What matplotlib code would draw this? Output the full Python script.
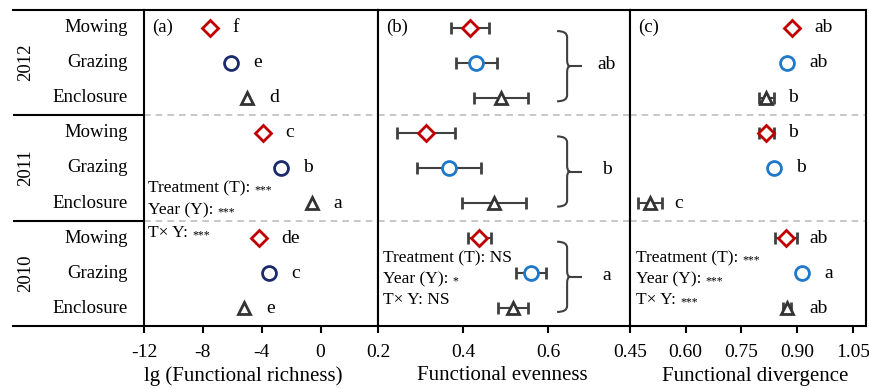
import matplotlib.pyplot as plt
from matplotlib.path import Path
from matplotlib.patches import PathPatch
import matplotlib.transforms as mtransforms

plt.rcParams["font.family"] = ["Liberation Serif", "DejaVu Serif"]

YEARS = ["2012", "2011", "2010"]
TREATMENTS = ["Mowing", "Grazing", "Enclosure"]

# rows top to bottom: 2012 (M, G, E), 2011 (M, G, E), 2010 (M, G, E)
fric_mean = [-7.5, -6.1, -5.0, -3.9, -2.7, -0.6, -4.2, -3.5, -5.2]
fric_err = [0, 0, 0, 0, 0, 0, 0, 0, 0]
fric_letters = ["f", "e", "d", "c", "b", "a", "de", "c", "e"]

feve_mean = [0.416, 0.431, 0.489, 0.313, 0.367, 0.473, 0.438, 0.560, 0.518]
feve_err = [0.045, 0.048, 0.063, 0.068, 0.076, 0.075, 0.027, 0.035, 0.035]
feve_year_letters = ["ab", "b", "a"]

fdiv_mean = [0.887, 0.873, 0.817, 0.817, 0.838, 0.504, 0.870, 0.913, 0.873]
fdiv_err = [0, 0, 0.02, 0.02, 0, 0.033, 0.03, 0, 0.01]
fdiv_letters = ["ab", "ab", "b", "b", "b", "c", "ab", "a", "ab"]

stats_a = [("Treatment (T): ", "***"), ("Year (Y): ", "***"), ("T\u00d7 Y: ", "***")]
stats_b = [("Treatment (T): NS", ""), ("Year (Y): ", "*"), ("T\u00d7 Y: NS", "")]
stats_c = [("Treatment (T): ", "***"), ("Year (Y): ", "***"), ("T\u00d7 Y: ", "***")]

RED = "#C00000"
NAVY = "#1B2A6B"
BLUE = "#1F78C8"
GRAY = "#333333"
ERR = "#404040"

W, H = 870, 389
fig = plt.figure(figsize=(W / 100, H / 100), dpi=100)


def px_axes(x0, y0, x1, y1):
    return fig.add_axes([x0 / W, 1 - y1 / H, (x1 - x0) / W, (y1 - y0) / H])


def draw_brace(ax, xb, ytop, ybot, xpx, ypx):
    ymid = (ytop + ybot) / 2
    hook = 10 * xpx
    r = 6 * ypx
    verts = [(xb - hook, ytop), (xb, ytop), (xb, ytop + r),
             (xb, ymid - r), (xb, ymid), (xb + 3 * xpx, ymid),
             (xb, ymid), (xb, ymid + r),
             (xb, ybot - r), (xb, ybot), (xb - hook, ybot)]
    codes = [Path.MOVETO, Path.CURVE3, Path.CURVE3, Path.LINETO,
             Path.CURVE3, Path.CURVE3, Path.CURVE3, Path.CURVE3,
             Path.LINETO, Path.CURVE3, Path.CURVE3]
    ax.add_patch(PathPatch(Path(verts, codes), fill=False, edgecolor=ERR, lw=1.5))
    ax.plot([xb + 3 * xpx, xb + 14 * xpx], [ymid, ymid], color=ERR, lw=1.5)
    return ymid


def panel(ax, xlim, ticks, ticklabels, means, errs, circle_color, label):
    ax.set_xlim(*xlim)
    ax.set_ylim(8.5, -0.5)
    ax.set_xticks(ticks)
    ax.set_xticklabels(ticklabels)
    ax.set_yticks([])
    ax.tick_params(axis="x", direction="out", length=5, width=1.5, labelsize=14, pad=8)
    for s in ax.spines.values():
        s.set_linewidth(1.5)
    for y in (2.5, 5.5):
        ax.axhline(y, color="#BFBFBF", lw=1.2, ls=(0, (4, 3)), zorder=0)
    styles = [("D", RED, 8), ("o", circle_color, 10), ("^", GRAY, 9)]
    for i, (m, e) in enumerate(zip(means, errs)):
        mk, col, ms = styles[i % 3]
        ax.errorbar(m, i, xerr=e, fmt=mk, ms=ms, mfc="white", mec=col, mew=2,
                    ecolor=ERR, elinewidth=1.5, capsize=4, capthick=1.5, zorder=3)
    ax.text(8 / 234, 0, label, transform=mtransforms.blended_transform_factory(ax.transAxes, ax.transData),
            fontsize=13.5, va="center", ha="left")


def stats(ax, rows, ys, xpad_px, width_px):
    trans = mtransforms.blended_transform_factory(ax.transAxes, ax.transData)
    for (main, stars), y in zip(rows, ys):
        t = ax.text(xpad_px / width_px, y, main, transform=trans, fontsize=12.5, va="center", ha="left")
        if stars:
            ax.annotate(stars, xy=(1, 0.0), xycoords=t, fontsize=8.5, va="bottom", ha="left")


def letters(ax, means, errs, labs, width_px):
    lo, hi = ax.get_xlim()
    scale = width_px / (hi - lo)
    for i, (m, e, lab) in enumerate(zip(means, errs, labs)):
        off = max(22, e * scale + 12)
        ax.annotate(lab, xy=(m, i), xytext=(off, 0), textcoords="offset pixels",
                    fontsize=14, ha="left", va="center")


# left label block
lab_ax = px_axes(13, 10, 144, 326)
lab_ax.set_xlim(0, 1)
lab_ax.set_ylim(8.5, -0.5)
lab_ax.set_xticks([])
lab_ax.set_yticks([])
lab_ax.spines["left"].set_visible(False)
lab_ax.spines["right"].set_visible(False)
lab_ax.spines["top"].set_linewidth(1.5)
lab_ax.spines["bottom"].set_linewidth(1.5)
for y in (2.5, 5.5):
    lab_ax.axhline(y, color="black", lw=1.5)
for k, yr in enumerate(YEARS):
    lab_ax.text(0.1, 3 * k + 1, yr, rotation=90, ha="center", va="center", fontsize=13.5)
    for j, tr in enumerate(TREATMENTS):
        lab_ax.text(0.878, 3 * k + j, tr, ha="right", va="center", fontsize=13.5)

# (a) functional richness
ax_a = px_axes(144, 10, 378, 326)
panel(ax_a, (-12, 3.9), [-12, -8, -4, 0], ["-12", "-8", "-4", "0"], fric_mean, fric_err, NAVY, "(a)")
letters(ax_a, fric_mean, fric_err, fric_letters, 234)
stats(ax_a, stats_a, [4.57, 5.2, 5.85], 4, 234)

# (b) functional evenness
ax_b = px_axes(378, 10, 630, 326)
panel(ax_b, (0.2, 0.793), [0.2, 0.4, 0.6], ["0.2", "0.4", "0.6"], feve_mean, feve_err, BLUE, "(b)")
xpx = (0.793 - 0.2) / 252
ypx = 9 / 316
for k, lab in enumerate(feve_year_letters):
    ymid = draw_brace(ax_b, 0.645, 3 * k + 0.1, 3 * k + 2.1, xpx, ypx)
    ax_b.text(0.738, ymid - 0.05, lab, ha="center", va="center", fontsize=14)
stats(ax_b, stats_b, [6.57, 7.16, 7.76], 5, 252)

# (c) functional divergence
ax_c = px_axes(630, 10, 866, 326)
panel(ax_c, (0.45, 1.085), [0.45, 0.60, 0.75, 0.90, 1.05],
      ["0.45", "0.60", "0.75", "0.90", "1.05"], fdiv_mean, fdiv_err, BLUE, "(c)")
letters(ax_c, fdiv_mean, fdiv_err, fdiv_letters, 236)
stats(ax_c, stats_c, [6.57, 7.16, 7.76], 6, 236)

fig.text(243 / W, 1 - 376 / H, "lg (Functional richness)", ha="center", va="center", fontsize=15)
fig.text(502 / W, 1 - 376 / H, "Functional evenness", ha="center", va="center", fontsize=15)
fig.text(755 / W, 1 - 376 / H, "Functional divergence", ha="center", va="center", fontsize=15)

fig.savefig("out.png", dpi=100)
